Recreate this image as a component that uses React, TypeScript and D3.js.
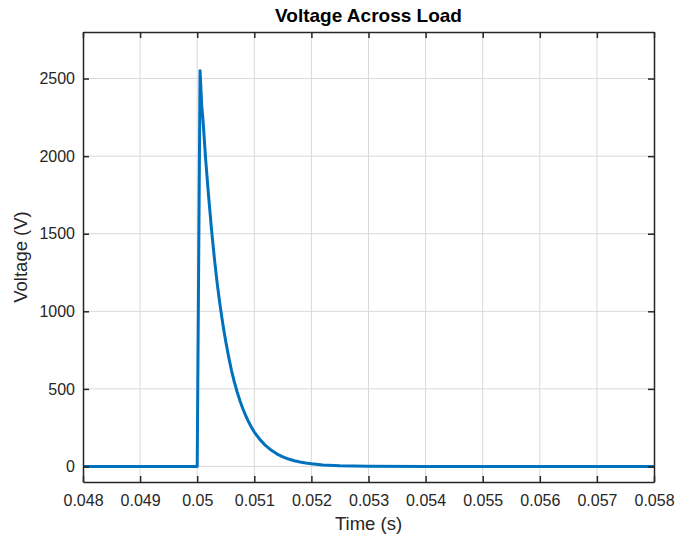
import React, { useEffect, useRef } from 'react';
import * as d3 from 'd3';

// time (s) and voltage (V)
const times = [
  0.048, 0.049, 0.05, 0.05005, 0.05008, 0.0501, 0.05015, 0.0502, 0.05025, 0.0503,
  0.05035, 0.0504, 0.05045, 0.0505, 0.05055, 0.0506, 0.05065, 0.0507, 0.05075, 0.0508,
  0.05085, 0.0509, 0.05095, 0.051, 0.0511, 0.0512, 0.0513, 0.0514, 0.0515, 0.0516,
  0.0517, 0.0518, 0.0519, 0.052, 0.0522, 0.0525, 0.053, 0.054, 0.056, 0.058,
];
const volts = [
  0, 0, 0, 2550, 2320, 2240, 1970, 1740, 1530, 1345,
  1180, 1040, 915, 805, 708, 620, 545, 480, 422, 372,
  327, 288, 253, 222, 173, 134, 104, 80, 62, 48,
  37, 29, 22, 17, 10, 5, 1, 0, 0, 0,
];
const xTicks = [0.048, 0.049, 0.05, 0.051, 0.052, 0.053, 0.054, 0.055, 0.056, 0.057, 0.058];
const yTicks = [0, 500, 1000, 1500, 2000, 2500];

const title = 'Voltage Across Load';
const xLabel = 'Time (s)';
const yLabel = 'Voltage (V)';

function App() {
  const ref = useRef<SVGSVGElement>(null);
  const width = 675;
  const height = 540;
  const margin = { top: 32, right: 21, bottom: 58, left: 83 };

  useEffect(() => {
    d3.select(ref.current).selectAll('*').remove();
    const svg = d3.select(ref.current);
    const font = 'Liberation Sans, Arial, Helvetica, sans-serif';
    const innerW = width - margin.left - margin.right;
    const innerH = height - margin.top - margin.bottom;

    svg.append('rect').attr('width', width).attr('height', height).attr('fill', '#fff');

    const x = d3.scaleLinear().domain([0.048, 0.058]).range([0, innerW]);
    const y = d3.scaleLinear().domain([-100, 2800]).range([innerH, 0]);

    const g = svg.append('g').attr('transform', `translate(${margin.left},${margin.top})`);

    // grid
    g.selectAll('.vg').data(xTicks.slice(1, -1)).enter().append('line')
      .attr('x1', d => x(d)).attr('x2', d => x(d))
      .attr('y1', 0).attr('y2', innerH)
      .attr('stroke', '#d9d9d9').attr('stroke-width', 1);
    g.selectAll('.hg').data(yTicks).enter().append('line')
      .attr('x1', 0).attr('x2', innerW)
      .attr('y1', d => y(d)).attr('y2', d => y(d))
      .attr('stroke', '#d9d9d9').attr('stroke-width', 1);

    // data line
    const pts = times.map((t, i) => [t, volts[i]] as [number, number]);
    const line = d3.line<[number, number]>().x(d => x(d[0])).y(d => y(d[1]));
    g.append('path').datum(pts)
      .attr('d', line)
      .attr('fill', 'none')
      .attr('stroke', '#0072BD')
      .attr('stroke-width', 3)
      .attr('stroke-linejoin', 'round');

    // axes with inward ticks on all sides
    const axisColor = '#262626';
    const xb = d3.axisBottom(x).tickValues(xTicks).tickSizeInner(-6).tickSizeOuter(0)
      .tickFormat(d => String(+d));
    const xt = d3.axisTop(x).tickValues(xTicks).tickSizeInner(-6).tickSizeOuter(0)
      .tickFormat(() => '');
    const yl = d3.axisLeft(y).tickValues(yTicks).tickSizeInner(-6).tickSizeOuter(0)
      .tickFormat(d => String(d));
    const yr = d3.axisRight(y).tickValues(yTicks).tickSizeInner(-6).tickSizeOuter(0)
      .tickFormat(() => '');

    const ax = [
      g.append('g').attr('transform', `translate(0,${innerH})`).call(xb),
      g.append('g').call(xt),
      g.append('g').call(yl),
      g.append('g').attr('transform', `translate(${innerW},0)`).call(yr),
    ];
    ax.forEach(a => {
      a.select('.domain').attr('stroke', axisColor).attr('stroke-width', 1.5);
      a.selectAll('.tick line').attr('stroke', axisColor).attr('stroke-width', 1.5);
      a.selectAll('.tick text')
        .attr('fill', axisColor)
        .attr('font-family', font)
        .attr('font-size', 16);
    });
    ax[0].selectAll('.tick text').attr('dy', '1.3em');
    ax[2].selectAll('.tick text').attr('x', -8);

    // title and labels
    svg.append('text')
      .attr('x', margin.left + innerW / 2).attr('y', 22)
      .attr('text-anchor', 'middle')
      .attr('font-family', font).attr('font-weight', 'bold').attr('font-size', 19)
      .attr('fill', '#000')
      .text(title);
    svg.append('text')
      .attr('x', margin.left + innerW / 2).attr('y', 530)
      .attr('text-anchor', 'middle')
      .attr('font-family', font).attr('font-size', 18.5)
      .attr('fill', axisColor)
      .text(xLabel);
    svg.append('text')
      .attr('transform', `translate(27,${margin.top + innerH / 2}) rotate(-90)`)
      .attr('text-anchor', 'middle')
      .attr('font-family', font).attr('font-size', 18.5)
      .attr('fill', axisColor)
      .text(yLabel);
  }, []);

  return (
    <svg ref={ref} width={width} height={height}
      style={{ position: 'absolute', left: 0, top: 0 }} />
  );
}

export default App;
